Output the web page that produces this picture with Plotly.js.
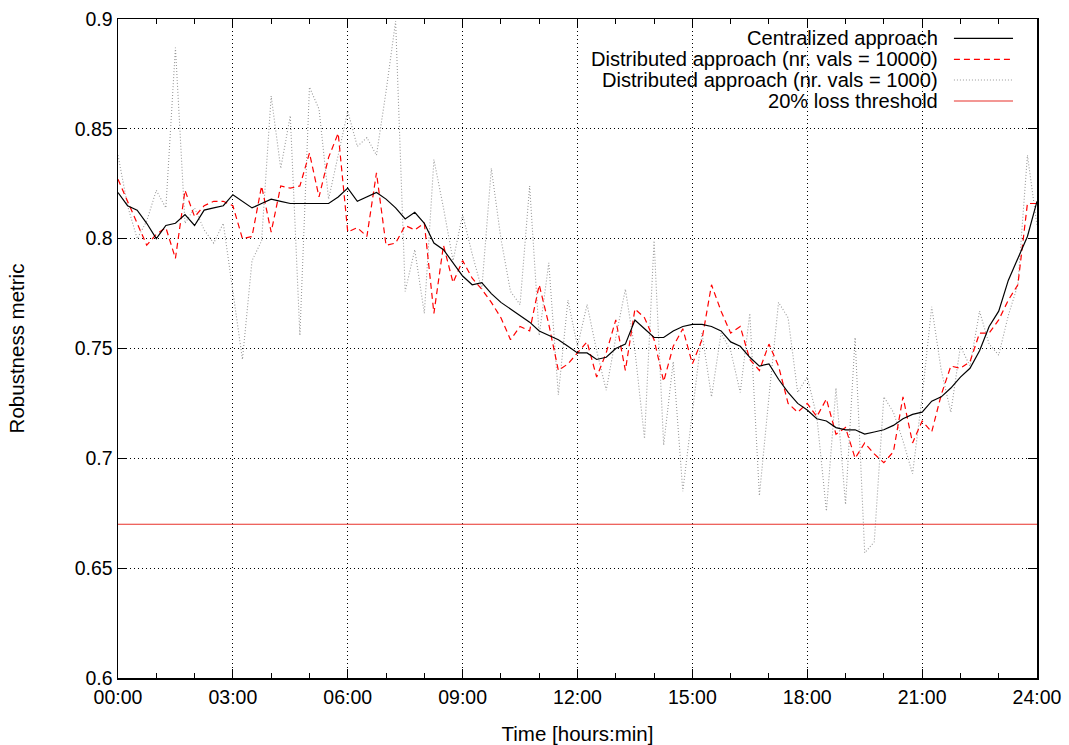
<!DOCTYPE html>
<html><head><meta charset="utf-8">
<script src="https://cdn.plot.ly/plotly-3.0.1.min.js"></script>
<style>html,body{margin:0;padding:0;background:#fff;}#chart{width:1069px;height:745px;}</style>
</head><body><div id="chart"></div>
<script>
// Time of day in hours (15-minute samples)
const timeHours = [0,0.25,0.5,0.75,1,1.25,1.5,1.75,2,2.25,2.5,2.75,3,3.25,3.5,3.75,4,4.25,4.5,4.75,
  5,5.25,5.5,5.75,6,6.25,6.5,6.75,7,7.25,7.5,7.75,8,8.25,8.5,8.75,9,9.25,9.5,9.75,
  10,10.25,10.5,10.75,11,11.25,11.5,11.75,12,12.25,12.5,12.75,13,13.25,13.5,13.75,14,14.25,14.5,14.75,
  15,15.25,15.5,15.75,16,16.25,16.5,16.75,17,17.25,17.5,17.75,18,18.25,18.5,18.75,19,19.25,19.5,19.75,
  20,20.25,20.5,20.75,21,21.25,21.5,21.75,22,22.25,22.5,22.75,23,23.25,23.5,23.75,24];

const centralized = [0.821,0.815,0.813,0.807,0.800,0.806,0.807,0.811,0.806,0.813,
  0.814,0.815,0.820,0.817,0.814,0.816,0.818,0.817,0.816,0.816,
  0.816,0.816,0.816,0.819,0.823,0.817,0.819,0.821,0.818,0.814,
  0.809,0.812,0.807,0.798,0.795,0.789,0.783,0.779,0.780,0.775,
  0.771,0.768,0.765,0.762,0.758,0.756,0.754,0.751,0.748,0.748,
  0.745,0.746,0.750,0.752,0.763,0.759,0.755,0.755,0.758,0.760,
  0.761,0.761,0.760,0.758,0.753,0.751,0.746,0.742,0.743,0.736,
  0.730,0.725,0.722,0.718,0.717,0.714,0.713,0.713,0.711,0.712,
  0.713,0.715,0.718,0.720,0.721,0.726,0.728,0.732,0.737,0.741,
  0.749,0.760,0.767,0.781,0.791,0.801,0.817];

const distributed10000 = [0.827,0.817,0.807,0.797,0.802,0.805,0.791,0.822,0.810,0.815,
  0.817,0.817,0.815,0.800,0.801,0.824,0.803,0.824,0.823,0.824,
  0.839,0.819,0.837,0.848,0.803,0.805,0.801,0.830,0.797,0.798,
  0.806,0.804,0.807,0.766,0.797,0.780,0.790,0.782,0.777,0.771,
  0.764,0.754,0.760,0.758,0.779,0.761,0.740,0.743,0.748,0.753,
  0.737,0.748,0.763,0.740,0.768,0.764,0.754,0.735,0.751,0.759,
  0.743,0.754,0.779,0.767,0.757,0.760,0.745,0.740,0.752,0.742,
  0.725,0.721,0.725,0.719,0.727,0.711,0.714,0.700,0.707,0.702,
  0.698,0.703,0.728,0.707,0.717,0.712,0.729,0.742,0.741,0.744,
  0.757,0.757,0.763,0.772,0.779,0.816,0.816];

const distributed1000 = [0.838,0.815,0.800,0.808,0.822,0.814,0.887,0.807,0.814,0.804,
  0.798,0.807,0.776,0.745,0.790,0.799,0.865,0.832,0.856,0.756,
  0.869,0.859,0.818,0.838,0.858,0.842,0.846,0.838,0.867,0.899,
  0.776,0.795,0.766,0.836,0.814,0.790,0.811,0.793,0.777,0.832,
  0.800,0.776,0.770,0.824,0.756,0.789,0.729,0.772,0.751,0.770,
  0.749,0.731,0.755,0.777,0.749,0.709,0.799,0.706,0.744,0.685,
  0.720,0.757,0.728,0.757,0.749,0.730,0.766,0.683,0.728,0.771,
  0.764,0.730,0.737,0.719,0.676,0.732,0.679,0.755,0.657,0.662,
  0.728,0.721,0.708,0.693,0.728,0.769,0.740,0.721,0.751,0.742,
  0.767,0.752,0.747,0.765,0.779,0.838,0.806];

const thresholdX = [0, 24];
const thresholdY = [0.67, 0.67];

const xTickVals = [0,3,6,9,12,15,18,21,24];
const xTickText = ['00:00','03:00','06:00','09:00','12:00','15:00','18:00','21:00','24:00'];

const seriesNames = ['Centralized approach','Distributed approach (nr. vals = 10000)','Distributed approach (nr. vals = 1000)','20% loss threshold'];

const styles = [
  {color:'#000000', width:1.2, dash:'solid'},
  {color:'#ff0000', width:1.2, dash:'6px,4px'},
  {color:'#9a9a9a', width:1.1, dash:'1px,2px'},
  {color:'#e8302a', width:1.1, dash:'solid'}
];

const traces = [
  {x:timeHours, y:centralized, name:seriesNames[0], type:'scatter', mode:'lines', line:styles[0]},
  {x:timeHours, y:distributed10000, name:seriesNames[1], type:'scatter', mode:'lines', line:styles[1]},
  {x:timeHours, y:distributed1000, name:seriesNames[2], type:'scatter', mode:'lines', line:styles[2]},
  {x:thresholdX, y:thresholdY, name:seriesNames[3], type:'scatter', mode:'lines', line:styles[3]}
];
// draw order: gray behind
const ordered = [traces[2], traces[3], traces[1], traces[0]];

const font = '"Liberation Sans", Arial, Helvetica, sans-serif';

// custom legend (text right-aligned, sample line at right) in paper coordinates
const legendRowsY = [0.9707, 0.9388, 0.9074, 0.8756];
const legendTextX = 0.8944, legendLineX0 = 0.9096, legendLineX1 = 0.9739;
const annotations = seriesNames.map((n,i)=>({
  text:n, xref:'paper', yref:'paper', x:legendTextX, y:legendRowsY[i],
  xanchor:'right', yanchor:'middle', showarrow:false, font:{family:font, size:20.1, color:'#000'}
}));
const shapes = seriesNames.map((n,i)=>({
  type:'line', xref:'paper', yref:'paper', x0:legendLineX0, x1:legendLineX1,
  y0:legendRowsY[i], y1:legendRowsY[i], line:styles[i]
}));

const axisCommon = {
  showline:true, linecolor:'#000', linewidth:1.5, mirror:'ticks',
  ticks:'inside', ticklen:9, tickwidth:1, tickcolor:'#000',
  showgrid:true, gridcolor:'#000', gridwidth:1, griddash:'1px,3px',
  zeroline:false, tickfont:{family:font, size:19.5, color:'#000'}
};

const layout = {
  width:1069, height:745,
  margin:{l:118, r:32, t:19, b:67},
  paper_bgcolor:'#ffffff', plot_bgcolor:'#ffffff',
  showlegend:false,
  font:{family:font, size:18, color:'#000'},
  xaxis:Object.assign({}, axisCommon, {
    range:[0,24], tickmode:'array', tickvals:xTickVals, ticktext:xTickText,
    ticklabelstandoff:1,
    minor:{tickmode:'linear', tick0:0, dtick:1, ticks:'inside', ticklen:5, tickcolor:'#000', showgrid:false},
    title:{text:'Time [hours:min]', font:{family:font, size:20.5, color:'#000'}, standoff:19}
  }),
  yaxis:Object.assign({}, axisCommon, {
    range:[0.6,0.9], tickmode:'linear', tick0:0.6, dtick:0.05,
    title:{text:'Robustness metric', font:{family:font, size:20.5, color:'#000'}, standoff:44}
  }),
  annotations:annotations,
  shapes:shapes
};

Plotly.newPlot('chart', ordered, layout, {displayModeBar:false, staticPlot:true});
</script>
</body></html>
